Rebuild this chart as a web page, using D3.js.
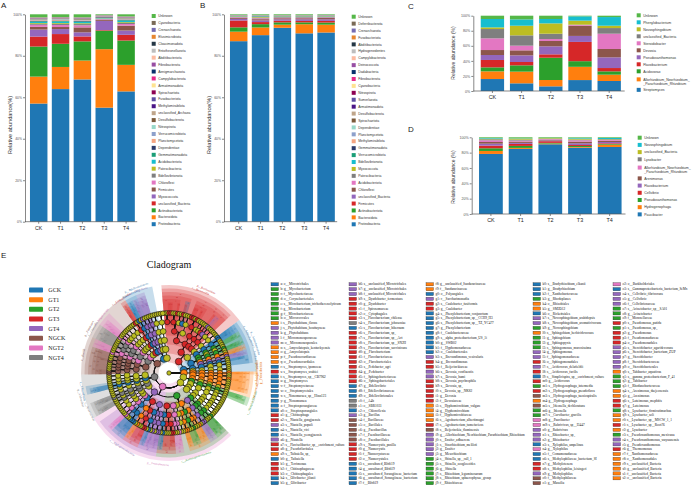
<!DOCTYPE html>
<html>
<head>
<meta charset="utf-8">
<script src="https://cdn.jsdelivr.net/npm/d3@7"></script>
<style>
  body { margin: 0; background: #fff; }
  svg { display: block; }
</style>
</head>
<body>
<script>
// ---------- data ----------
const samples = ['CK', 'T1', 'T2', 'T3', 'T4'];
const percentTicks = [0, 0.2, 0.4, 0.6, 0.8, 1];

// panel A: phyla, stacked from the bottom
const phylaA = ['Proteobacteria', 'Bacteroidota', 'Actinobacteriota', 'unclassified_Bacteria', 'Myxococcota',
  'Firmicutes', 'Chloroflexi', 'Bdellovibrionota', 'Patescibacteria', 'Acidobacteriota', 'Gemmatimonadota',
  'Dependentiae', 'Planctomycetota', 'Verrucomicrobiota', 'Nitrospirota', 'Desulfobacterota',
  'unclassified_Archaea', 'Methylomirabilota', 'Fusobacteriota', 'Spirochaetota', 'Armatimonadota',
  'Campylobacterota', 'Aenigmarchaeota', 'Fibrobacterota', 'Abditibacteriota', 'Entotheonellaeota',
  'Cloacimonadota', 'Elusimicrobiota', 'Crenarchaeota', 'Cyanobacteria', 'Unknown'];
const valuesA = [
  [57.0, 13.0, 14.5, 4.8, 3.4, 1.3, 1.0, 0.4, 0.4, 0.6, 0.3, 0.2, 0.3, 0.2, 0.2, 0.2, 0.1, 0.1, 0.05, 0.05, 0.05, 0.05, 0.05, 0.05, 0.05, 0.05, 0.05, 0.05, 0.05, 0.1, 1.4],
  [64.1, 10.7, 11.2, 4.7, 2.4, 1.0, 1.0, 0.5, 0.4, 0.7, 0.3, 0.2, 0.3, 0.2, 0.2, 0.2, 0.1, 0.1, 0.05, 0.05, 0.05, 0.05, 0.05, 0.05, 0.05, 0.05, 0.05, 0.05, 0.05, 0.1, 1.3],
  [69.1, 9.2, 9.3, 2.4, 2.0, 2.4, 1.0, 0.6, 0.4, 0.6, 0.3, 0.2, 0.3, 0.2, 0.2, 0.3, 0.1, 0.1, 0.05, 0.05, 0.05, 0.05, 0.05, 0.05, 0.05, 0.05, 0.05, 0.05, 0.05, 0.1, 1.4],
  [55.6, 28.5, 9.0, 0.3, 4.5, 0.5, 0.3, 0.2, 0.2, 0.2, 0.1, 0.3, 0.1, 0.1, 0.05, 0.05, 0.05, 0.05, 0.05, 0.05, 0.05, 0.05, 0.05, 0.05, 0.05, 0.05, 0.05, 0.05, 0.05, 0.05, 0.4],
  [63.8, 13.0, 11.9, 2.8, 2.1, 2.4, 0.8, 0.5, 0.4, 0.7, 0.3, 0.2, 0.2, 0.2, 0.2, 0.2, 0.1, 0.1, 0.05, 0.05, 0.05, 0.05, 0.05, 0.05, 0.05, 0.05, 0.05, 0.05, 0.05, 0.1, 1.0]
];

// panel B
const phylaB = ['Proteobacteria', 'Bacteroidota', 'Actinobacteriota', 'Firmicutes', 'unclassified_Bacteria',
  'Chloroflexi', 'Acidobacteriota', 'Patescibacteria', 'Myxococcota', 'Bdellovibrionota', 'Verrucomicrobiota',
  'Gemmatimonadota', 'Methylomirabilota', 'Planctomycetota', 'Dependentiae', 'Spirochaetota',
  'Desulfobacterota', 'Armatimonadota', 'Sumerlaeota', 'Nitrospirota', 'Cyanobacteria', 'Fibrobacterota',
  'Dadabacteria', 'Deinococcota', 'Campylobacterota', 'Hydrogenedentes', 'Abditibacteriota',
  'Fusobacteriota', 'Crenarchaeota', 'Deferribacterota', 'Unknown'];
const valuesB = [
  [87.3, 4.6, 2.1, 3.3, 0.8, 0.5, 0.3, 0.2, 0.2, 0.1, 0.1, 0.05, 0.05, 0.05, 0.05, 0.02, 0.02, 0.02, 0.02, 0.02, 0.02, 0.02, 0.02, 0.02, 0.02, 0.02, 0.02, 0.02, 0.02, 0.02, 0.3],
  [90.0, 3.7, 1.6, 1.0, 0.8, 0.6, 0.4, 0.4, 0.3, 0.2, 0.1, 0.1, 0.05, 0.05, 0.05, 0.02, 0.02, 0.02, 0.02, 0.02, 0.02, 0.02, 0.02, 0.02, 0.02, 0.02, 0.02, 0.02, 0.02, 0.02, 0.4],
  [93.7, 1.5, 1.1, 0.8, 0.7, 0.5, 0.3, 0.3, 0.2, 0.1, 0.1, 0.05, 0.05, 0.05, 0.05, 0.02, 0.02, 0.02, 0.02, 0.02, 0.02, 0.02, 0.02, 0.02, 0.02, 0.02, 0.02, 0.02, 0.02, 0.02, 0.4],
  [91.1, 4.4, 0.9, 0.7, 0.8, 0.5, 0.3, 0.3, 0.2, 0.1, 0.1, 0.05, 0.05, 0.05, 0.05, 0.02, 0.02, 0.02, 0.02, 0.02, 0.02, 0.02, 0.02, 0.02, 0.02, 0.02, 0.02, 0.02, 0.02, 0.02, 0.4],
  [91.5, 3.8, 1.0, 0.8, 0.8, 0.6, 0.3, 0.3, 0.2, 0.1, 0.1, 0.05, 0.05, 0.05, 0.05, 0.02, 0.02, 0.02, 0.02, 0.02, 0.02, 0.02, 0.02, 0.02, 0.02, 0.02, 0.02, 0.02, 0.02, 0.02, 0.3]
];

// panel C: genera
const generaC = ['Streptomyces', 'Allorhizobium_Neorhizobium_Pararhizobium_Rhizobium', 'Acidovorax', 'Flavobacterium',
  'Pseudoxanthomonas', 'Devosia', 'Steroidobacter', 'unclassified_Bacteria', 'Novosphingobium', 'Phenylobacterium', 'Unknown'];
const valuesC = [
  [15.9, 10.2, 5.3, 9.8, 6.6, 6.6, 15.5, 12.4, 2.2, 11.1, 4.4],
  [10.2, 15.5, 8.4, 4.4, 8.8, 6.7, 6.2, 13.7, 12.8, 8.4, 4.9],
  [6.2, 8.4, 29.6, 4.5, 10.6, 7.1, 2.6, 7.1, 13.7, 5.8, 4.4],
  [14.6, 17.7, 7.5, 25.7, 8.0, 13.7, 0.9, 0.5, 5.3, 5.7, 0.9],
  [13.3, 8.4, 4.4, 4.4, 14.2, 11.1, 20.3, 7.5, 3.1, 11.5, 1.8]
];

// panel D: genera
const generaD = ['Paucibacter', 'Hydrogenophaga', 'Pseudoxanthomonas', 'Cellvibrio', 'Flavobacterium', 'Arenimonas',
  'Allorhizobium_Neorhizobium_Pararhizobium_Rhizobium', 'Lysobacter', 'unclassified_Bacteria', 'Novosphingobium', 'Unknown'];
const valuesD = [
  [78.3, 3.9, 3.5, 3.4, 2.6, 2.2, 2.2, 1.3, 0.9, 0.8, 0.9],
  [84.8, 1.3, 2.6, 2.6, 1.3, 1.7, 1.3, 1.3, 1.3, 0.4, 1.3],
  [91.3, 0.9, 0.9, 2.2, 0.9, 0.9, 0.9, 0.4, 0.9, 0.2, 0.9],
  [86.5, 0.9, 1.3, 1.3, 2.2, 2.2, 1.7, 0.9, 1.3, 0.9, 0.8],
  [87.4, 3.0, 0.9, 0.9, 1.7, 1.7, 0.9, 0.9, 0.4, 1.3, 0.9]
];

const palette = ['#1f77b4', '#ff7f0e', '#2ca02c', '#d62728', '#9467bd', '#8c564b', '#e377c2', '#7f7f7f',
  '#bcbd22', '#17becf', '#1b9e77', '#2b3a6b', '#f4a582', '#8da0cb', '#99d8c9', '#7b5a3a', '#bfa58a',
  '#4a1486', '#5e4fa2', '#8e0152', '#fee391', '#e7298a', '#08306b', '#984ea3', '#fcbba1', '#bdbdbd',
  '#253745', '#e6862f', '#756bb1', '#7a6a56', '#55b748'];
const genusPalette = ['#1f77b4', '#ff7f0e', '#2ca02c', '#d62728', '#9467bd', '#8c564b', '#e377c2', '#7f7f7f',
  '#bcbd22', '#17becf', '#55b748'];

// panel E: LEfSe groups
const groupNames = ['GCK', 'GT1', 'GT2', 'GT3', 'GT4', 'NGCK', 'NGT2', 'NGT4'];
const groupCodes = 'BOGRPNKA';
const groupColors = ['#1f77b4', '#ff7f0e', '#2ca02c', '#d62728', '#9467bd', '#8c564b', '#e377c2', '#7f7f7f'];

// cladogram per phylum: letter = group code (y = not significant), (...) = children, [..] = label
const cladeStrings = [
  'R[p__Bacteroidota]( R[c__Bacteroidia]( R( R( R(yyR) R(RyyR) y(yy) B(Ry) ) y( y(yy) ) ) R( R( R(RRyRy) y(y) ) ) R( R( y(yy) R(y) ) ) R( R( P(Py) y(yy) ) ) ) y( y( y( y(yyy) ) ) ) )',
  'B[p__Actinobacteriota]( B[c__Actinobacteria]( B( B( B(BBy) ) ) G( G( G(yy) ) y( y(y) ) ) G( G( G(Gy) ) ) O( O( O(yO) ) ) P( P( P(Py) ) ) ) B[c__Acidimicrobiia]( B( B( B(y) ) y( y(yy) ) ) ) y( y( y( y(yyy) ) ) ) )',
  'O[p__Patescibacteria]( O[c__Saccharimonadia]( O( O( O(O) ) ) ) )',
  'y( O[c__Polyangia]( O( O( O(yy) ) O( O(Oy) ) ) ) O[c__Myxococcia]( O( O( O(yyy) ) ) y( y( y(y) ) ) ) G[c__Vampirivibrionia]( G( G( G(yy) ) y( y(y) ) ) ) y( y( y( y(yy) y(yy) ) ) ) )',
  'y( y( y( y( y(yy) y(y) ) y( y(yy) ) ) ) y( y( y( y(yy) ) ) ) )',
  'K[p__Proteobacteria]( G[c__Gammaproteobacteria]( G( G( G(Gy) ) G( G(yy) ) ) P( P( P(PPy) ) ) O( O( O(Oy) O(y) ) G( G(Gyy) ) O( O(OO) ) ) y( y( y(yy) ) ) K( K( K(Ky) K(y) ) ) R( R( R(RRy) R(yy) ) B( B(By) ) ) ) P[c__Alphaproteobacteria]( P( P( P(PPy) ) P( P(Py) ) B( B(By) ) ) R( R( R(RRyy) ) O( O(Oy) ) ) B( B( B(BBBy) B(y) ) ) K( K( K(Ky) ) ) y( y( y(yyy) ) ) ) y( y( y( y(yy) ) ) ) )',
  'A[p__Chloroflexi]( A[c__Anaerolineae]( A( A( A(yy) ) y( y(y) ) ) A( A( A(Ay) ) ) ) y( y( y( y(yy) y(y) ) ) ) B[c__Chloroflexia]( B( B( B(yy) ) ) y( y( y(y) ) ) ) y( y( y( y(yy) ) y( y(yy) ) ) ) )',
  'N[p__Firmicutes]( N[c__Bacilli]( N( N( N(NNy) N(y) ) N( N(yy) ) ) N( N( N(Ny) ) N( N(yy) ) ) K( K( K(Kyy) ) ) ) A[c__Clostridia]( A( A( A(yy) ) A( A(yyy) ) ) ) K[c__Negativicutes]( K( K( K(Ky) y(y) ) ) y( y( y(yy) ) ) ) y( y( y( y(yy) ) ) y( y( y(yyy) ) ) ) R[c__Limnochordia]( R( R( R(Ry) ) ) ) )',
  'B[p__Bdellovibrionota]( B[c__Bdellovibrionia]( B( B( B(By) ) ) P( P( P(Py) ) ) ) P[c__Oligoflexia]( P( P( P(yy) P(y) ) ) ) y( y( y( y(yyy) ) ) ) )',
  'y( y( y( y( y(yyy) ) ) ) )'
];

// key list beside the cladogram
const keyNames = [
  'o__Microtrichales', 'g__Mycobacterium', 'f__Mycobacteriaceae', 'o__Corynebacteriales', 's__Microbacterium_trichothecenolyticum',
  'g__Microbacterium', 'f__Microbacteriaceae', 'o__Micrococcales', 's__Phytohabitans_flavus', 's__Phytohabitans_houttuyneae',
  'g__Phytohabitans', 'f__Micromonosporaceae', 'o__Micromonosporales', 's__Amycolatopsis_kentuckyensis', 'g__Amycolatopsis',
  'f__Pseudonocardiaceae', 'o__Pseudonocardiales', 's__Streptomyces_ipomoeae', 's__Streptomyces_scabiei', 's__Streptomyces_sp__CB7962',
  'g__Streptomyces', 'f__Streptomycetaceae', 'o__Streptomycetales', 's__Nonomuraea_sp__Hinn123', 'g__Nonomuraea',
  'f__Streptosporangiaceae', 'o__Streptosporangiales', 'g__Chitinophaga', 's__Niastella_gongjuensis', 's__Niastella_populi',
  's__Niastella_vici', 's__Niastella_yeongjuensis', 'g__Niastella', 's__Flavisolibacter_sp__enrichment_culture', 'g__Pseudoflavitalea',
  's__Taibaiella_sp_', 'g__Taibaiella', 'g__Terrimonas', 'f__Chitinophagaceae', 'o__Chitinophagales',
  's__Olivibacter_jilunii', 'g__Olivibacter',
  's__unclassified_Microtrichales', 'g__unclassified_Microtrichales', 'f__unclassified_Microtrichales', 's__Dyadobacter_fermentans', 'g__Dyadobacter',
  'f__Spirosomaceae', 'o__Cytophagales', 's__Flavobacterium_chilense', 's__Flavobacterium_johnsoniae', 's__Flavobacterium_hibernum',
  's__Flavobacterium_sp_', 's__Flavobacterium_sp__Act', 's__Flavobacterium_sp__SN2H', 's__Flavobacterium_succinicans', 'g__Flavobacterium',
  'f__Flavobacteriaceae', 'o__Flavobacteriales', 's__Pedobacter_agri', 'g__Pedobacter', 'f__Sphingobacteriaceae',
  'o__Sphingobacteriales', 'g__Bdellovibrio', 'f__Bdellovibrionaceae', 'o__Bdellovibrionales', 'f__A4b',
  'o__SBR1031', 'c__Chloroflexia', 'g__Bacillus', 'f__Bacillaceae', 'o__Bacillales',
  'g__Paenibacillus', 'f__Paenibacillaceae', 'o__Paenibacillales', 's__Nannocystis_pusilla', 'g__Nannocystis',
  'f__Nannocystaceae', 'o__Nannocystales', 's__uncultured_Blfdi19', 'g__uncultured_Blfdi19', 's__uncultured_Sorangiineae_bacterium',
  'g__uncultured_Sorangiineae_bacterium', 'f__Blfdi19',
  'g__unclassified_Sandaracinaceae', 'f__Sandaracinaceae', 'o__Polyangiales', 'c__Saccharimonadia', 's__Caulobacter_fusiformis',
  'g__Caulobacter', 's__Phenylobacterium_conjunctum', 's__Phenylobacterium_sp__CCH9_H3', 's__Phenylobacterium_sp__TZ_YC477', 'g__Phenylobacterium',
  'f__Caulobacteraceae', 's__alpha_proteobacterium_US_1i', 'g__SWB02', 'f__Hyphomonadaceae', 'o__Caulobacterales',
  's__Brevundimonas_vesicularis', 'g__Brevundimonas', 'f__Beijerinckiaceae', 's__Devosia_confluentis', 's__Devosia_humi',
  's__Devosia_psychrophila', 's__Devosia_sp_', 's__Devosia_sp__NK82', 'g__Devosia', 'f__Devosiaceae',
  's__Hyphomicrobium_vulgare', 'g__Hyphomicrobium', 'f__Hyphomicrobiaceae', 's__Agrobacterium_albertimagni', 's__Agrobacterium_tumefaciens',
  's__Beijerinckia_fluminensis', 'g__Allorhizobium_Neorhizobium_Pararhizobium_Rhizobium', 's__Ensifer_adhaerens', 's__Sinorhizobium_meliloti', 'g__Ensifer',
  'g__Mesorhizobium', 's__Shinella_sp__rall_1', 's__Shinella_zoogloeoides', 'g__Shinella', 's__Rhizobium_leguminosarum',
  's__Rhizobium_sphaerophysae_group', 'f__Rhizobiaceae',
  's__Bradyrhizobium_elkanii', 'g__Bradyrhizobium', 'f__Xanthobacteraceae', 'g__Rhodoplanes', 'o__Rhizobiales',
  'g__SM2D12', 'o__Rickettsiales', 's__Novosphingobium_arabidopsis', 's__Novosphingobium_aromaticivorans', 'g__Novosphingobium',
  's__Sphingobium_herbicidovorans', 'g__Sphingobium', 'g__Sphingopyxis', 's__Sphingomonas_mucosissima', 'g__Sphingomonas',
  'f__Sphingomonadaceae', 'o__Sphingomonadales', 's__Acidovorax_delafieldii', 's__Acidovorax_facilis', 's__Simplicispira_sp__enrichment_culture',
  'g__Acidovorax', 's__Hydrogenophaga_intermedia', 's__Hydrogenophaga_pseudoflava', 's__Hydrogenophaga_taeniospiralis', 'g__Hydrogenophaga',
  's__Ideonella_dechloratans', 'g__Ideonella', 's__Curvibacter_gracilis', 'g__Paucibacter', 's__Rubrivivax_sp__I3447',
  'g__Rubrivivax', 's__Rhizobacter_sp_', 'g__Rhizobacter', 's__Xylophilus_ampelinus', 'g__Xylophilus',
  'f__Comamonadaceae', 's__Methylophilaceae_bacterium_SI', 'g__Methylotenera', 's__Methylophilus_leisingeri', 'g__Methylophilus',
  'f__Methylophilaceae', 'g__Massilia',
  'o__Burkholderiales', 's__Gammaproteobacteria_bacterium_SeMx', 's__Cellvibrio_fibrivorans', 'g__Cellvibrio', 'f__Cellvibrionaceae',
  's__Acinetobacter_sp__SA01', 'g__Acinetobacter', 'f__Moraxellaceae', 's__Pseudomonas_putida', 's__Pseudomonas_sp_',
  'g__Pseudomonas', 'f__Pseudomonadaceae', 'o__Pseudomonadales', 's__Steroidobacter_agaridevorans', 's__Steroidobacter_bacterium_ZUP',
  'g__Steroidobacter', 'f__Steroidobacteraceae', 'o__Steroidobacterales', 's__Tahibacter_aquaticus', 's__gamma_proteobacterium_F_41',
  'g__Tahibacter', 'f__Rhodanobacteraceae', 's__Arenimonas_daejeonensis', 'g__Arenimonas', 's__Luteimonas_mephitis',
  'g__Luteimonas', 's__Lysobacter_firmicutimachus', 's__Lysobacter_soli', 's__Lysobacter_sp__MSCW_1_1', 's__Lysobacter_sp__Root76',
  'g__Lysobacter', 's__Pseudoxanthomonas_mexicana', 's__Pseudoxanthomonas_wuyuanensis', 'g__Pseudoxanthomonas', 'g__Thermomonas',
  'f__Xanthomonadaceae', 'o__Xanthomonadales', 's__unclassified_Bacteria', 'g__unclassified_Bacteria', 'f__unclassified_Bacteria',
  'o__unclassified_Bacteria'
];
const keyGroups = [
  'BGGGGGGGOPPPPOOOOBRBBBBBBBBRRPBBPRROBRRRBB',
  'PPPRRRRRABRRRRRRRRRRRBBBAABPNNNNNRRRRBBBBB',
  'OOBPRRBBBBBBBBBPRRPPRRRRROOOORNPPPPPGGGGGG',
  'BBBGOOBPPGOGGGPPRPRBRGRNONGGKKPPPBKBBRRPNN',
  'KBPPPGGGRGRRRPPPPPOGGGOORRGOOROGPPROOOOOO'
].join('');

// ---------- drawing ----------
const svg = d3.select('body').append('svg')
  .attr('width', 700)
  .attr('height', 486)
  .style('font-family', "'Liberation Sans', Arial, sans-serif");

function panelLetter(t, x, y) {
  svg.append('text').attr('x', x).attr('y', y).attr('font-size', 8).attr('fill', '#222').text(t);
}

function legendLines(name) {
  if (name.includes('_Pararhizobium')) {
    const parts = name.split('_Pararhizobium');
    return [parts[0] + '_', '_Pararhizobium' + parts[1]];
  }
  return [name];
}

function stackPanel(o) {
  const g = svg.append('g');
  const rows = o.values.map((v, i) => {
    const r = { sample: samples[i] };
    o.names.forEach((n, j) => { r[n] = v[j]; });
    return r;
  });
  const series = d3.stack().keys(o.names).offset(d3.stackOffsetExpand)(rows);

  const x = d3.scaleBand().domain(samples).range([o.r0, o.r1]).paddingInner(0.2).paddingOuter(0.2);
  const y = d3.scaleLinear().domain([0, 1]).range([o.bottom, o.top]);

  g.append('g').selectAll('g').data(series).join('g')
    .attr('fill', (d, i) => o.colors[i])
    .selectAll('rect').data(d => d).join('rect')
    .attr('x', d => x(d.data.sample))
    .attr('width', x.bandwidth())
    .attr('y', d => y(d[1]))
    .attr('height', d => Math.max(0, y(d[0]) - y(d[1])));

  const ya = g.append('g')
    .attr('transform', `translate(${o.axisX},0)`)
    .call(d3.axisLeft(y).tickValues(percentTicks).tickFormat(d3.format('.0%'))
      .tickSize(2).tickSizeOuter(0).tickPadding(1));
  ya.attr('font-family', null).attr('font-size', o.tickFont).attr('color', '#555');
  ya.selectAll('line, path').attr('stroke-width', 0.7);

  const xa = g.append('g')
    .attr('transform', `translate(0,${o.bottom})`)
    .call(d3.axisBottom(x).tickSize(2).tickSizeOuter(0).tickPadding(o.xPad));
  xa.attr('font-family', null).attr('font-size', o.xFont).attr('color', '#555');
  xa.selectAll('line, path').attr('stroke-width', 0.7);
  xa.select('.domain').attr('d', `M${o.axisX},0H${o.r1 - 2}`);
  xa.selectAll('text').attr('fill', '#222');

  g.append('text')
    .attr('transform', `translate(${o.labelX},${o.labelY}) rotate(-90)`)
    .attr('text-anchor', 'middle')
    .attr('font-size', o.labelFont)
    .attr('fill', '#333')
    .text(o.yLabel);

  // legend, top to bottom
  const items = o.names.map((n, i) => ({ name: n, color: o.colors[i] })).reverse();
  let ly = o.legY;
  items.forEach(it => {
    const lines = legendLines(it.name);
    if (lines.length > 1) ly += o.legStep * 0.15;
    g.append('rect').attr('x', o.legX).attr('y', ly - o.sw / 2).attr('width', o.sw).attr('height', o.sw).attr('fill', it.color);
    lines.forEach((t, k) => {
      g.append('text').attr('x', o.legX + o.sw + 2.5).attr('y', ly + k * 4.6)
        .attr('dy', '0.35em').attr('font-size', o.legFont).attr('fill', '#333').text(t);
    });
    ly += lines.length > 1 ? o.legStep * 1.5 : o.legStep;
  });
}

panelLetter('A', 1, 8);
stackPanel({
  names: phylaA, values: valuesA, colors: palette,
  r0: 25.6, r1: 139.2, top: 14.3, bottom: 221.7, axisX: 25,
  tickFont: 3.4, xFont: 5.2, xPad: 2.5, labelFont: 5.6, labelX: 11.5, labelY: 125,
  yLabel: 'Relative abundance(%)',
  legX: 151.7, legY: 16, legStep: 6.94, sw: 4, legFont: 3.4
});

panelLetter('B', 200, 8);
stackPanel({
  names: phylaB, values: valuesB, colors: palette,
  r0: 225.6, r1: 339.2, top: 14.3, bottom: 221.7, axisX: 224,
  tickFont: 3.4, xFont: 5.2, xPad: 2.5, labelFont: 5.6, labelX: 210.5, labelY: 125,
  yLabel: 'Relative abundance(%)',
  legX: 351.7, legY: 16.7, legStep: 6.92, sw: 4, legFont: 3.4
});

panelLetter('C', 408, 9);
stackPanel({
  names: generaC, values: valuesC, colors: genusPalette,
  r0: 474.9, r1: 626.7, top: 15.7, bottom: 91, axisX: 473.3,
  tickFont: 3.6, xFont: 5.4, xPad: 2.5, labelFont: 5, labelX: 455, labelY: 53,
  yLabel: 'Relative abundance (%)',
  legX: 636.7, legY: 15.3, legStep: 7.0, sw: 4, legFont: 3.5
});

panelLetter('D', 408, 132);
stackPanel({
  names: generaD, values: valuesD, colors: genusPalette,
  r0: 473.1, r1: 627.5, top: 137.3, bottom: 214, axisX: 471.7,
  tickFont: 3.6, xFont: 5.4, xPad: 2.5, labelFont: 5, labelX: 455, labelY: 177,
  yLabel: 'Relative abundance (%)',
  legX: 637.7, legY: 137.7, legStep: 7.2, sw: 4, legFont: 3.5
});

// ---------- panel E: cladogram ----------
panelLetter('E', 1, 258);
const E = svg.append('g').style('font-family', "'Liberation Serif', 'Times New Roman', serif");

E.append('text').attr('x', 169).attr('y', 268).attr('text-anchor', 'middle')
  .attr('font-size', 10).attr('fill', '#111').text('Cladogram');

groupNames.forEach((n, i) => {
  const yy = 290 + i * 9.65;
  E.append('rect').attr('x', 29).attr('y', yy - 2.5).attr('width', 14).attr('height', 5)
    .attr('rx', 0.8).attr('fill', groupColors[i]);
  E.append('text').attr('x', 48.3).attr('y', yy).attr('dy', '0.35em')
    .attr('font-size', 6).attr('fill', '#222').text(n);
});

function parseClade(str) {
  const s = str.replace(/\s+/g, '');
  let i = 0;
  function node() {
    const n = { g: s[i++], children: [] };
    if (s[i] === '[') {
      const j = s.indexOf(']', i);
      n.name = s.slice(i + 1, j);
      i = j + 1;
    }
    if (s[i] === '(') {
      i++;
      while (s[i] !== ')') n.children.push(node());
      i++;
    }
    return n;
  }
  return node();
}

const cx = 169, cy = 373;
const ringR = [0, 15, 24, 33, 42, 51, 60];
const nodeR = [2.2, 3.4, 3.3, 3.1, 2.9, 2.7, 2.4];
const outerR = d => 88 - (d - 1) * 3.5;
const noSig = '#bcbd22';
const gcol = c => (c === 'y' ? noSig : groupColors[groupCodes.indexOf(c)]);

function codeOf(i) {
  if (i < 26) return String.fromCharCode(97 + i);
  const j = i - 26;
  return String.fromCharCode(97 + Math.floor(j / 10)) + (j % 10);
}

const root = d3.hierarchy({ g: 'y', children: cladeStrings.map(parseClade) },
  d => (d.children.length ? d.children : null));
d3.cluster().size([360, 1]).separation(() => 1)(root);
const rot = -5;
root.each(n => { n.a = n.x + rot; n.r = ringR[n.depth]; });
root.a = 90;
const leafStep = 360 / root.leaves().length;

function pt(r, a) {
  const t = a * Math.PI / 180;
  return [cx + r * Math.sin(t), cy - r * Math.cos(t)];
}
function span(n) {
  const lv = n.leaves();
  return [d3.min(lv, l => l.a) - leafStep / 2, d3.max(lv, l => l.a) + leafStep / 2];
}

// shaded sectors of significant clades
const sig = root.descendants().filter(n => n.depth > 0 && n.data.g !== 'y')
  .sort((p, q) => p.depth - q.depth);
const arcGen = d3.arc();
E.append('g').attr('transform', `translate(${cx},${cy})`)
  .selectAll('path').data(sig).join('path')
  .attr('d', n => {
    const [a0, a1] = span(n);
    return arcGen({ innerRadius: n.r - 4.5, outerRadius: outerR(n.depth),
      startAngle: a0 * Math.PI / 180, endAngle: a1 * Math.PI / 180 });
  })
  .attr('fill', n => gcol(n.data.g))
  .attr('fill-opacity', 0.25);

// branches: radial step at the parent angle, then arc along the child ring
E.append('g').selectAll('path').data(root.links()).join('path')
  .attr('d', ({ source: p, target: c }) => {
    const [x0, y0] = pt(p.r, p.a), [x1, y1] = pt(c.r, p.a), [x2, y2] = pt(c.r, c.a);
    const d = c.a - p.a;
    return `M${x0},${y0}L${x1},${y1}A${c.r},${c.r} 0 ${Math.abs(d) > 180 ? 1 : 0} ${d > 0 ? 1 : 0} ${x2},${y2}`;
  })
  .attr('fill', 'none')
  .attr('stroke', '#111')
  .attr('stroke-width', 1);

E.append('g').selectAll('circle')
  .data(root.descendants().sort((p, q) => p.depth - q.depth))
  .join('circle')
  .attr('cx', n => pt(n.r, n.a)[0])
  .attr('cy', n => pt(n.r, n.a)[1])
  .attr('r', n => nodeR[n.depth])
  .attr('fill', n => gcol(n.data.g))
  .attr('stroke', '#111')
  .attr('stroke-width', 0.6);

// labels: names for high ranks, letter keys for the rest
let k = 0;
const labG = E.append('g');
sig.slice().sort((p, q) => d3.ascending(p.leaves()[0].a, q.leaves()[0].a) || p.depth - q.depth)
  .forEach(n => {
    const [a0, a1] = span(n);
    const am = (a0 + a1) / 2;
    const norm = ((am % 360) + 360) % 360;
    const col = d3.color(gcol(n.data.g)).darker(0.3).formatHex();
    if (n.data.name) {
      const [x, y] = pt(outerR(n.depth) + 2.5, am);
      const top = norm < 90 || norm > 270;
      labG.append('text')
        .attr('transform', `translate(${x},${y}) rotate(${top ? am : am - 180})`)
        .attr('text-anchor', 'middle').attr('dy', top ? '0em' : '0.7em')
        .attr('font-size', 3).attr('fill', col).text(n.data.name);
    } else if (n.depth >= 3) {
      const [x, y] = pt(outerR(n.depth) - 1, am);
      const right = norm < 180;
      labG.append('text')
        .attr('transform', `translate(${x},${y}) rotate(${right ? am - 90 : am + 90})`)
        .attr('text-anchor', right ? 'end' : 'start').attr('dy', '0.35em')
        .attr('font-size', 2.6).attr('fill', col).text(codeOf(k++));
    }
  });

// key list
const keyCols = [271, 349, 426, 533, 613];
const keyG = E.append('g');
keyNames.forEach((name, i) => {
  const col = Math.floor(i / 42), row = i % 42;
  const x = keyCols[col], y = 284.3 + row * 4.85;
  keyG.append('rect').attr('x', x).attr('y', y - 1.6).attr('width', 7.5).attr('height', 3.2)
    .attr('fill', gcol(keyGroups[i])).attr('stroke', '#222').attr('stroke-width', 0.3);
  keyG.append('text').attr('x', x + 9.5).attr('y', y).attr('dy', '0.35em')
    .attr('font-size', 3.4).attr('fill', '#111').text(`${codeOf(i)}: ${name}`);
});
</script>
</body>
</html>
